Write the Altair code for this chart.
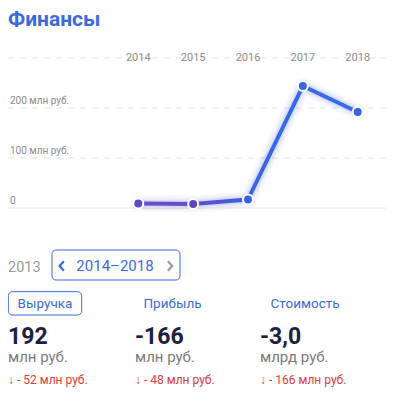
import altair as alt
import pandas as pd

# ---- data ----
years = [2014, 2015, 2016, 2017, 2018]
revenue = [9, 8, 17, 244, 192]          # млн руб.
grid_dashed = [100, 200, 300]
grid_base = [0]
y_label_values = [0, 100, 200]
y_labels = ["0", "100 млн руб.", "200 млн руб."]
year_label_level = 300

metric_names = ["Выручка", "Прибыль", "Стоимость"]
metric_values = ["192", "-166", "-3,0"]
metric_units = ["млн руб.", "млн руб.", "млрд руб."]
metric_changes = ["↓ - 52 млн руб.", "↓ - 48 млн руб.", "↓ - 166 млн руб."]

BLUE = "#3a6ade"
PURPLE = "#5b49bd"
FONT = "Roboto"

series = pd.DataFrame({"year": years, "value": revenue})
grid_d = pd.DataFrame({"v": grid_dashed})
grid_b = pd.DataFrame({"v": grid_base})
ylab = pd.DataFrame({"v": y_label_values, "t": y_labels})

W, H = 378, 379
xs = alt.Scale(domain=[2014, 2018], range=[130.3, 349.7], nice=False, zero=False)
ys = alt.Scale(domain=[0, 300], range=[200, 50], nice=False, zero=False)

X = alt.X("year:Q", scale=xs, axis=None)
Y = alt.Y("value:Q", scale=ys, axis=None)

grad = alt.Gradient(
    gradient="linear",
    stops=[
        alt.GradientStop(color="#6450c4", offset=0),
        alt.GradientStop(color="#5a52c8", offset=0.28),
        alt.GradientStop(color="#3b64e4", offset=0.52),
        alt.GradientStop(color="#3a6ae8", offset=1),
    ],
    x1=0, x2=1, y1=0, y2=0,
)

layers = []

# grid
layers.append(
    alt.Chart(grid_d).mark_rule(color="#e3e3e3", strokeDash=[6, 6], strokeWidth=1).encode(
        y=alt.Y("v:Q", scale=ys, axis=None), x=alt.value(0), x2=alt.value(W)
    )
)
layers.append(
    alt.Chart(grid_b).mark_rule(color="#e6e6e6", strokeWidth=1).encode(
        y=alt.Y("v:Q", scale=ys, axis=None), x=alt.value(0), x2=alt.value(W)
    )
)

# y labels
layers.append(
    alt.Chart(ylab).mark_text(align="left", baseline="alphabetic", dy=-4, fontSize=10,
                              color="#8c8c8c", font=FONT).encode(
        y=alt.Y("v:Q", scale=ys, axis=None), x=alt.value(2), text="t:N"
    )
)

# year labels on top grid line
layers.append(
    alt.Chart(series).transform_calculate(top=str(year_label_level)).mark_text(
        align="center", baseline="middle", fontSize=11, color="#8c8c8c", font=FONT
    ).encode(x=X, y=alt.Y("top:Q", scale=ys, axis=None), text="year:N")
)

# glow
for w, op in [(16, 0.05), (11, 0.08), (7, 0.12)]:
    layers.append(
        alt.Chart(series).mark_line(strokeWidth=w, opacity=op, stroke=grad,
                                    strokeCap="round", strokeJoin="round").encode(x=X, y=Y)
    )

# main line
layers.append(
    alt.Chart(series).mark_line(strokeWidth=4, stroke=grad, strokeJoin="round").encode(x=X, y=Y)
)

# points
layers.append(
    alt.Chart(series).mark_point(filled=True, size=100, stroke="white", strokeWidth=2,
                                 opacity=1, fillOpacity=1, strokeOpacity=1).encode(
        x=X, y=Y,
        fill=alt.condition("datum.year <= 2015", alt.value(PURPLE), alt.value("#3d62e0")),
    )
)

one = alt.Data(values=[{"a": 1}])


def txt(text, x, y, size, color, weight="normal", align="left", baseline="middle"):
    return alt.Chart(one).mark_text(
        text=text, align=align, baseline=baseline, fontSize=size, color=color,
        fontWeight=weight, font=FONT
    ).encode(x=alt.value(x), y=alt.value(y))


def box(x1, x2, y1, y2, color):
    return alt.Chart(one).mark_rect(
        fill="white", fillOpacity=0, stroke=color, strokeWidth=1, cornerRadius=4
    ).encode(x=alt.value(x1), x2=alt.value(x2), y=alt.value(y1), y2=alt.value(y2))


# title
layers.append(txt("Финансы", 0, 18, 21, BLUE, weight="bold", baseline="alphabetic"))

# year selector
layers.append(txt("2013", 0, 259.5, 14.5, "#999999"))
layers.append(box(44, 172, 242, 272, BLUE))
layers.append(txt("2014–2018", 107, 258, 15, BLUE, align="center"))
layers.append(
    alt.Chart(one).mark_point(shape="M 0.45 -1 L -0.45 0 L 0.45 1", filled=False,
                              stroke=BLUE, strokeWidth=2.2, size=90, opacity=1).encode(
        x=alt.value(53.7), y=alt.value(258)
    )
)
layers.append(
    alt.Chart(one).mark_point(shape="M -0.45 -1 L 0.45 0 L -0.45 1", filled=False,
                              stroke="#9a9a9a", strokeWidth=2.2, size=90, opacity=1).encode(
        x=alt.value(162), y=alt.value(258)
    )
)

# metrics
layers.append(box(0.3, 73.7, 283.7, 307, BLUE))
name_x = [37, 164.5, 297]
col_x = [0, 127, 252]
for i in range(3):
    layers.append(txt(metric_names[i], name_x[i], 295.5, 13.5, BLUE, align="center"))
    layers.append(txt(metric_values[i], col_x[i], 329, 23, "#1d2040", weight="bold"))
    layers.append(txt(metric_units[i], col_x[i], 349, 15, "#7a7a7a"))
    layers.append(txt(metric_changes[i], col_x[i], 372, 12, "#e03a3a"))

chart = alt.layer(*layers).properties(
    width=W, height=H, autosize=alt.AutoSizeParams(type="none"), padding=0
).configure_view(strokeWidth=0)

chart.save("out.html", embed_options={"renderer": "svg", "actions": False})
